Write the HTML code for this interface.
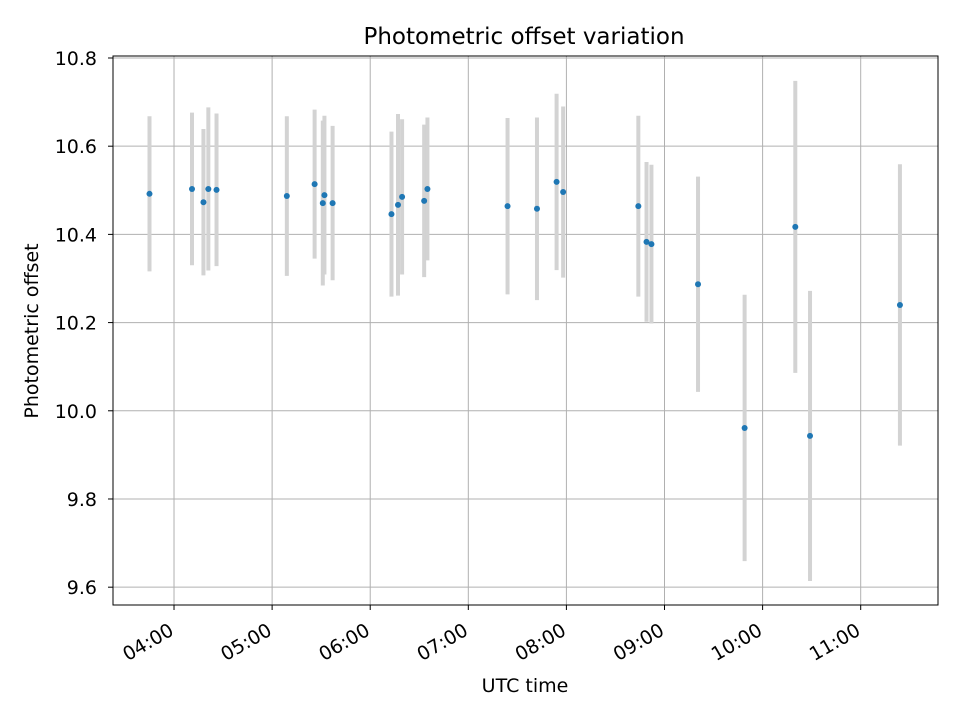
<!DOCTYPE html>
<html><head><meta charset="utf-8"><style>
body{margin:0;background:#fff;}
svg text{font-family:"DejaVu Sans","Liberation Sans",sans-serif;fill:#000;}
</style></head><body>
<svg id="chart" width="960" height="720" xmlns="http://www.w3.org/2000/svg">
<rect width="960" height="720" fill="#fff"/>
<g id="grid"></g><g id="bars"></g><g id="pts"></g><g id="axes"></g>
<text x="524" y="44" text-anchor="middle" font-size="23">Photometric offset variation</text>
<text x="525" y="692" text-anchor="middle" font-size="19">UTC time</text>
<text transform="translate(38,331) rotate(-90)" text-anchor="middle" font-size="19">Photometric offset</text>
</svg>
<script>
const times=["03:45","04:11","04:18","04:21","04:26","05:09","05:26","05:31","05:32","05:37","06:13","06:17","06:19.5","06:33","06:35","07:24","07:42","07:54","07:58","08:44","08:49","08:52","09:20.5","09:49","10:20","10:29","11:24"];
const values=[10.492,10.503,10.473,10.503,10.501,10.487,10.514,10.471,10.489,10.471,10.446,10.467,10.485,10.476,10.503,10.464,10.458,10.519,10.496,10.464,10.383,10.378,10.287,9.961,10.417,9.943,10.24];
const errors=[0.176,0.173,0.166,0.185,0.173,0.181,0.169,0.187,0.18,0.175,0.187,0.206,0.176,0.173,0.162,0.2,0.207,0.2,0.194,0.205,0.181,0.18,0.244,0.302,0.331,0.329,0.319];
const xTicks=["04:00","05:00","06:00","07:00","08:00","09:00","10:00","11:00"];
const yTicks=[9.6,9.8,10.0,10.2,10.4,10.6,10.8];
const L=113,R=938,T=56,B=605;
const x0=3.378,x1=11.788,y0=9.5596,y1=10.8045;
const NS="http://www.w3.org/2000/svg";
function hrs(s){const p=s.split(":");return +p[0]+ +p[1]/60;}
function X(t){return L+(hrs(t)-x0)/(x1-x0)*(R-L);}
function Y(v){return B-(v-y0)/(y1-y0)*(B-T);}
function mk(tag,a,parent){const e=document.createElementNS(NS,tag);for(const k in a)e.setAttribute(k,a[k]);document.getElementById(parent).appendChild(e);return e;}
xTicks.forEach(t=>{const x=X(t);
 let g=mk("line",{x1:x,x2:x,y1:T,y2:B,stroke:"#b0b0b0","stroke-width":1},"grid");
 
 
 let k=mk("line",{x1:x,x2:x,y1:B,y2:B+5,stroke:"#000"},"axes");
 
 
 const ax=x+1,ay=B+29;
 let l=mk("text",{x:ax,y:ay,"text-anchor":"end","font-size":"19",transform:`rotate(-30 ${ax} ${ay})`},"axes");
 l.textContent=t;
 
 
});
yTicks.forEach(v=>{const y=Y(v);
 let g=mk("line",{x1:L,x2:R,y1:y,y2:y,stroke:"#b0b0b0","stroke-width":1},"grid");
 
 
 let k=mk("line",{x1:L-5,x2:L,y1:y,y2:y,stroke:"#000"},"axes");
 
 
 let l=mk("text",{x:L-16,y:y+7,"text-anchor":"end","font-size":"19"},"axes");
 l.textContent=v.toFixed(1);
 
 
});
let fr=mk("rect",{x:L,y:T,width:R-L,height:B-T,fill:"none",stroke:"#000","stroke-width":1},"axes");


times.forEach((t,i)=>{const x=X(t);
 let b=mk("line",{x1:x,x2:x,y1:Y(values[i]+errors[i]),y2:Y(values[i]-errors[i]),stroke:"#d3d3d3","stroke-width":4},"bars");
 
 
 let c=mk("circle",{cx:x,cy:Y(values[i]),r:3,fill:"#1f77b4"},"pts");
 
 
});
</script>
</body></html>
